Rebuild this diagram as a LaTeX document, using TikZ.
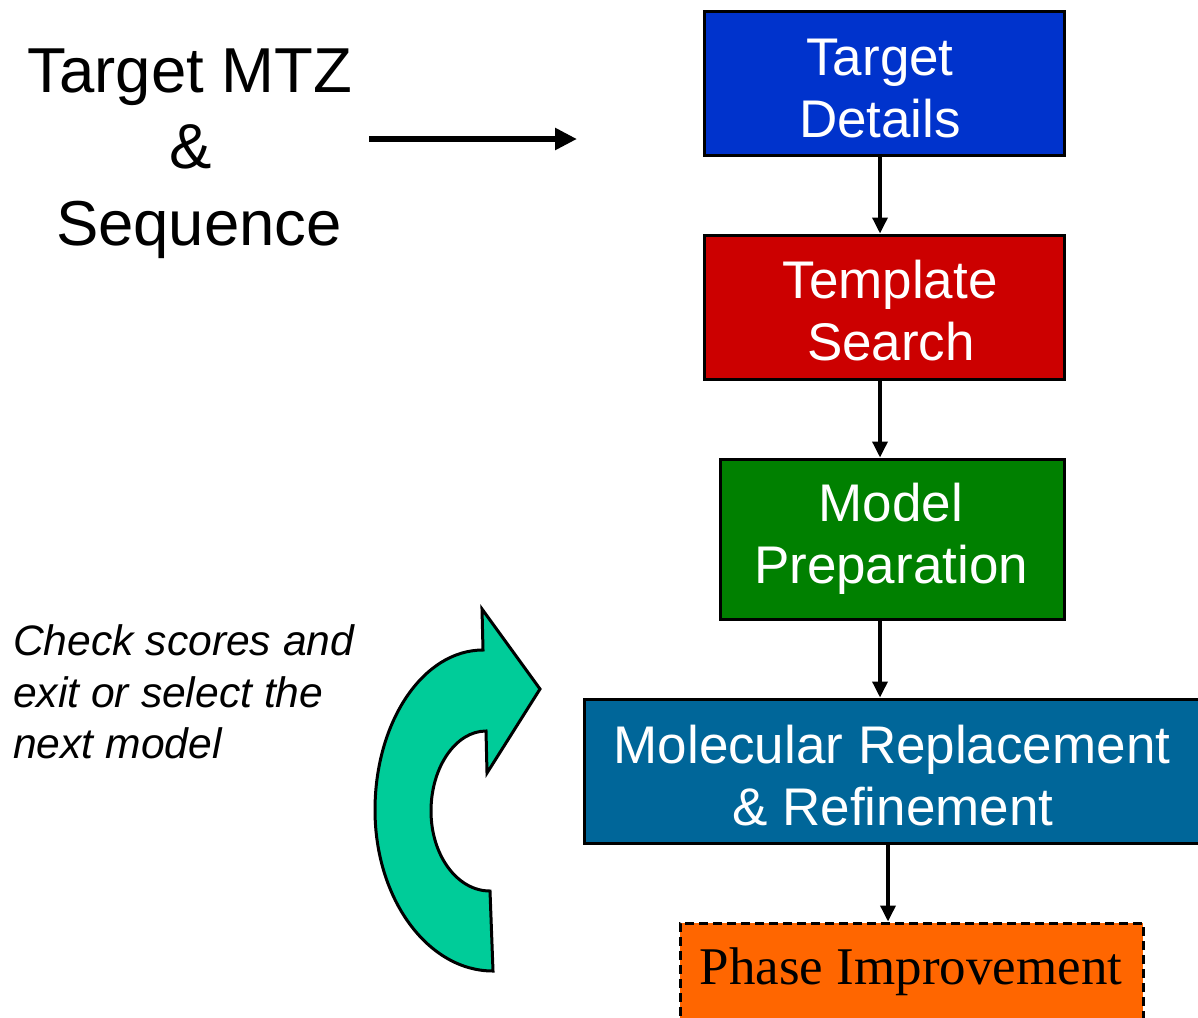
\documentclass[tikz,border=0pt]{standalone}
\usepackage{fontspec}
\setmainfont{Liberation Sans}
\newfontfamily\timesf{Liberation Serif}
\usetikzlibrary{arrows.meta}
\definecolor{cblue}{HTML}{0033CC}
\definecolor{cred}{HTML}{CC0000}
\definecolor{cgreen}{HTML}{008000}
\definecolor{cmr}{HTML}{006699}
\definecolor{corange}{HTML}{FF6600}
\definecolor{cteal}{HTML}{00CC99}
\tikzset{
  flowbox/.style={draw=black, line width=3pt, rectangle, inner sep=0pt},
  boxtxt/.style={text=white, font=\fontsize{53}{62}\selectfont, anchor=base, inner sep=0pt},
  bigtxt/.style={text=black, font=\fontsize{63.5}{76}\selectfont, anchor=base, inner sep=0pt},
  ittxt/.style={text=black, font=\fontsize{42.6}{52}\selectfont\itshape, anchor=base west, inner sep=0pt},
  flowarrow/.style={line width=3.5pt, -{Triangle[length=16pt,width=15pt]}},
  bigarrow/.style={line width=6pt, -{Triangle[length=22pt,width=21pt]}},
}
\begin{document}
\begin{tikzpicture}[x=1pt,y=-1pt]
\useasboundingbox (0,0) rectangle (1198,1017);
% boxes
\node[flowbox, fill=cblue, minimum width=360pt, minimum height=144pt] (td) at (884,83) {};
\node[flowbox, fill=cred, minimum width=360pt, minimum height=144pt] (ts) at (884,307) {};
\node[flowbox, fill=cgreen, minimum width=344pt, minimum height=160pt] (mp) at (892,539) {};
\node[flowbox, fill=cmr, minimum width=618pt, minimum height=144pt] (mr) at (893,771) {};
\node[flowbox, fill=corange, dash pattern=on 9pt off 5pt, minimum width=463pt, minimum height=110pt] (pi) at (911.5,978) {};
% box texts
\node[boxtxt] (td1) at (880,75) {Target};
\node[boxtxt] (td2) at (880,137) {Details};
\node[boxtxt] (ts1) at (890,298) {Template};
\node[boxtxt] (ts2) at (891,360) {Search};
\node[boxtxt] (mp1) at (891,521) {Model};
\node[boxtxt] (mp2) at (891,583) {Preparation};
\node[boxtxt] (mr1) at (892,763) {Molecular Replacement};
\node[boxtxt] (mr2) at (893,825) {\& Refinement};
\node[text=black, font=\timesf\fontsize{53}{60}\selectfont, anchor=base, inner sep=0pt] (pi1) at (911,984) {Phase Improvement};
% vertical connectors
\coordinate (ax) at (880,0);
\coordinate (bx) at (888,0);
\draw[flowarrow] (td.south -| ax) -- (ts.north -| ax);
\draw[flowarrow] (ts.south -| ax) -- (mp.north -| ax);
\draw[flowarrow] (mp.south -| ax) -- (mr.north -| ax);
\draw[flowarrow] (mr.south -| bx) -- (pi.north -| bx);
% input text
\node[bigtxt] (in1) at (190,92) {Target MTZ};
\node[bigtxt] (in2) at (191,168) {\&};
\node[bigtxt] (in3) at (199,245) {Sequence};
\coordinate (bigstart) at (369,139);
\coordinate (bigend) at (577,139);
\draw[bigarrow] (bigstart) -- (bigend);
% italic note
\node[ittxt] (n1) at (13,655) {Check scores and};
\node[ittxt] (n2) at (13,707) {exit or select the};
\node[ittxt] (n3) at (13,758) {next model};
% curved arrow
\draw[fill=cteal, line width=3pt, line join=miter]
  (493,971) .. controls (428,971) and (375,899) .. (375,810)
  .. controls (375,722) and (423,650) .. (483,650)
  -- (482,609) -- (540,689) -- (487,773) -- (486,731)
  .. controls (456,731) and (431,767) .. (431,811)
  .. controls (431,855) and (457,891) .. (490,891)
  -- cycle;
\end{tikzpicture}
\end{document}
